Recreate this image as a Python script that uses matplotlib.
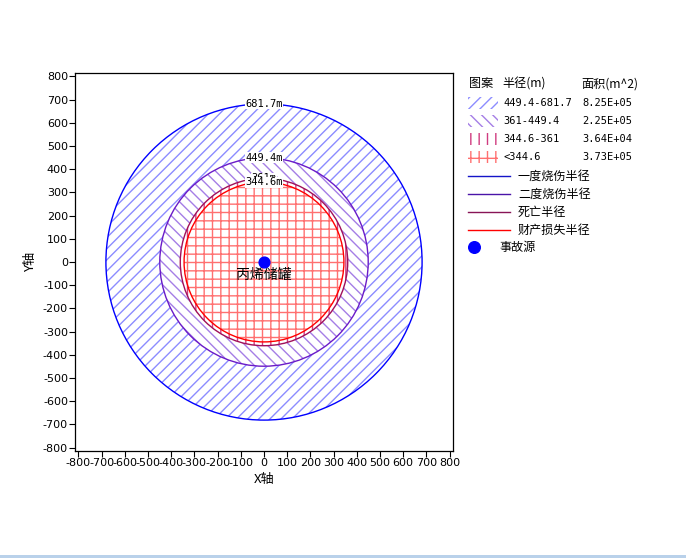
import numpy as np
import matplotlib
matplotlib.use('Agg')
import matplotlib.pyplot as plt
from matplotlib.patches import Wedge, Circle, Rectangle
from matplotlib.lines import Line2D

plt.rcParams['font.family'] = ['Noto Sans CJK SC', 'DejaVu Sans']
plt.rcParams['axes.unicode_minus'] = False
plt.rcParams['hatch.linewidth'] = 1.0

# data
radii = [681.7, 449.4, 361, 344.6]
range_labels = ['449.4-681.7', '361-449.4', '344.6-361', '<344.6']
areas = [8.25e5, 2.25e5, 3.64e4, 3.73e5]
line_labels = ['一度烧伤半径', '二度烧伤半径', '死亡半径', '财产损失半径']
source_name = '丙烯储罐'
source_legend = '事故源'
ticks = np.arange(-800, 801, 100)

line_colors = ['#0000ff', '#6a1bc8', '#a0105a', '#ff0000']
legend_line_colors = ['#1414c8', '#4a14a8', '#881456', '#ff0000']
hatch_colors = ['#8c8cff', '#a57ee6', '#d03c80', '#ff7070']
hatches = ['///', '\\\\\\', '||', '++']
legend_hatches = ['///', '\\\\\\', '||', '|+']

fig = plt.figure(figsize=(6.86, 5.58), dpi=100)
ax = fig.add_axes([75 / 686, 1 - 451 / 558, 378 / 686, 378 / 558])

inner = radii[1:] + [0]
for r, r_in, hc, h in zip(radii, inner, hatch_colors, hatches):
    w = Wedge((0, 0), r, 0, 360, width=r - r_in, facecolor='white',
              edgecolor=hc, linewidth=0, hatch=h)
    ax.add_patch(w)

for r, c in zip(radii, line_colors):
    ax.add_patch(Circle((0, 0), r, fill=False, edgecolor=c, linewidth=1.0))

for r in radii:
    ax.text(0, r, f'{r:g}m', ha='center', va='center', fontsize=7.5,
            family='DejaVu Sans Mono',
            bbox=dict(boxstyle='square,pad=0.05', fc='white', ec='none'))

ax.scatter([0], [0], s=60, color='#0000ff', zorder=5)
ax.annotate(source_name, (0, 0), xytext=(0, -6), textcoords='offset pixels',
            ha='center', va='top', fontsize=10)

ax.set_xlim(-815, 815)
ax.set_ylim(-815, 815)
ax.set_xticks(ticks)
ax.set_yticks(ticks)
ax.tick_params(direction='out', length=4, width=0.8, labelsize=8,
               top=False, right=False, pad=1)
for lab in ax.get_xticklabels() + ax.get_yticklabels():
    lab.set_family('DejaVu Sans')
ax.set_xlabel('X轴', fontsize=9.5)
ax.set_ylabel('Y轴', fontsize=9.5)
ax.xaxis.set_label_coords(0.5, -0.058)
ax.yaxis.set_label_coords(-0.10, 0.5)
for s in ax.spines.values():
    s.set_linewidth(0.9)

# legend panel in pixel coordinates
lax = fig.add_axes([0, 0, 1, 1], zorder=-1)
lax.set_xlim(0, 686)
lax.set_ylim(558, 0)
lax.axis('off')
lax.add_patch(Rectangle((0, 555), 686, 3, color='#b9d1ea', lw=0))

mono = 'DejaVu Sans Mono'
lax.text(469, 84, '图案', fontsize=8.7, va='center')
lax.text(502, 84, '半径(m)', fontsize=8.7, va='center')
lax.text(581, 84, '面积(m^2)', fontsize=8.7, va='center')

for i, (lbl, a, hc, h) in enumerate(zip(range_labels, areas, hatch_colors, legend_hatches)):
    y = 103 + i * 18
    lax.add_patch(Rectangle((468, y - 6), 30, 12, facecolor='white',
                            edgecolor=hc, linewidth=0, hatch=h))
    lax.text(503, y, lbl, fontsize=7.5, family=mono, va='center')
    lax.text(582, y, f'{a:.2E}', fontsize=7.5, family=mono, va='center')

for i, (lbl, c) in enumerate(zip(line_labels, legend_line_colors)):
    y = 176 + i * 18
    lax.add_line(Line2D([468, 510], [y, y], color=c, linewidth=1.0))
    lax.text(518, y, lbl, fontsize=8.7, va='center')

lax.scatter([474], [247], s=70, color='#0000ff')
lax.text(499, 247, source_legend, fontsize=8.7, va='center')

fig.savefig('out.png', dpi=100)
